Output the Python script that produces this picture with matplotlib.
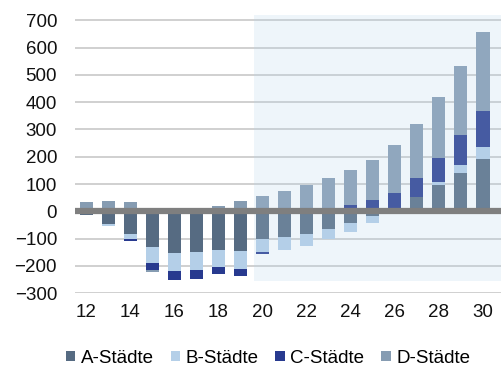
import matplotlib
matplotlib.use("Agg")
import matplotlib.pyplot as plt
import numpy as np
from matplotlib.patches import Rectangle

plt.rcParams['font.family'] = ['Liberation Sans', 'DejaVu Sans']

years = list(range(12, 31))
a_staedte = [-12, -46, -84, -130, -152, -149, -142, -144, -102, -95, -84, -65, -43, -16, 5, 52, 95, 140, 191]
b_staedte = [0, -8, -18, -59, -66, -67, -62, -67, -48, -47, -42, -36, -31, -25, 0, 0, 12, 29, 46]
c_staedte = [0, 0, -5, -27, -32, -32, -24, -25, -6, 0, 0, 12, 25, 40, 62, 69, 87, 109, 130]
d_staedte = [35, 37, 35, -6, 0, 0, 21, 37, 58, 73, 96, 111, 128, 148, 175, 200, 226, 255, 289]
series_names = ["A-Städte", "B-Städte", "C-Städte", "D-Städte"]
colors = ["#566b82", "#b4cfe8", "#283a8f", "#869cb2"]
y_ticks = [-300, -200, -100, 0, 100, 200, 300, 400, 500, 600, 700]
x_ticks = [12, 14, 16, 18, 20, 22, 24, 26, 28, 30]

fig = plt.figure(figsize=(5.01, 3.76), dpi=100)
ax = fig.add_axes([0.15, 0.22, 0.85, 0.748])

x = np.array(years, dtype=float)
pos_base = np.zeros(len(x))
neg_base = np.zeros(len(x))
handles = []
for vals, name, col in zip([a_staedte, b_staedte, c_staedte, d_staedte], series_names, colors):
    v = np.array(vals, dtype=float)
    pos = np.where(v > 0, v, 0)
    neg = np.where(v < 0, v, 0)
    h = ax.bar(x, pos, 0.6, bottom=pos_base, color=col, zorder=3, label=name)
    ax.bar(x, neg, 0.6, bottom=neg_base, color=col, zorder=3)
    pos_base += pos
    neg_base += neg
    handles.append(h)

# forecast shading overlay
ax.add_patch(Rectangle((19.62, -255), 12, 973, facecolor="#b4d2ea", alpha=0.22,
                       edgecolor="none", zorder=4))

ax.axhline(0, color="#7f7f7f", lw=4.5, zorder=5)
ax.set_ylim(-300, 730)
ax.set_xlim(11.5, 30.82)
ax.set_yticks(y_ticks)
ax.set_xticks(x_ticks)
ax.yaxis.grid(True, color="#c8c8c8", lw=1.2, zorder=0)
ax.set_axisbelow(True)
for s in ax.spines.values():
    s.set_visible(False)
ax.tick_params(axis="both", length=0, labelsize=13.5, colors="#111111")
ax.tick_params(axis="y", pad=13)
ax.tick_params(axis="x", pad=8)

fig.legend(handles=handles, labels=series_names, loc="lower center",
           bbox_to_anchor=(0.535, -0.02), ncol=4, frameon=False, fontsize=13.5,
           handlelength=0.5, handleheight=0.5, handletextpad=0.3, columnspacing=0.9)

fig.savefig("out.png", dpi=100)
